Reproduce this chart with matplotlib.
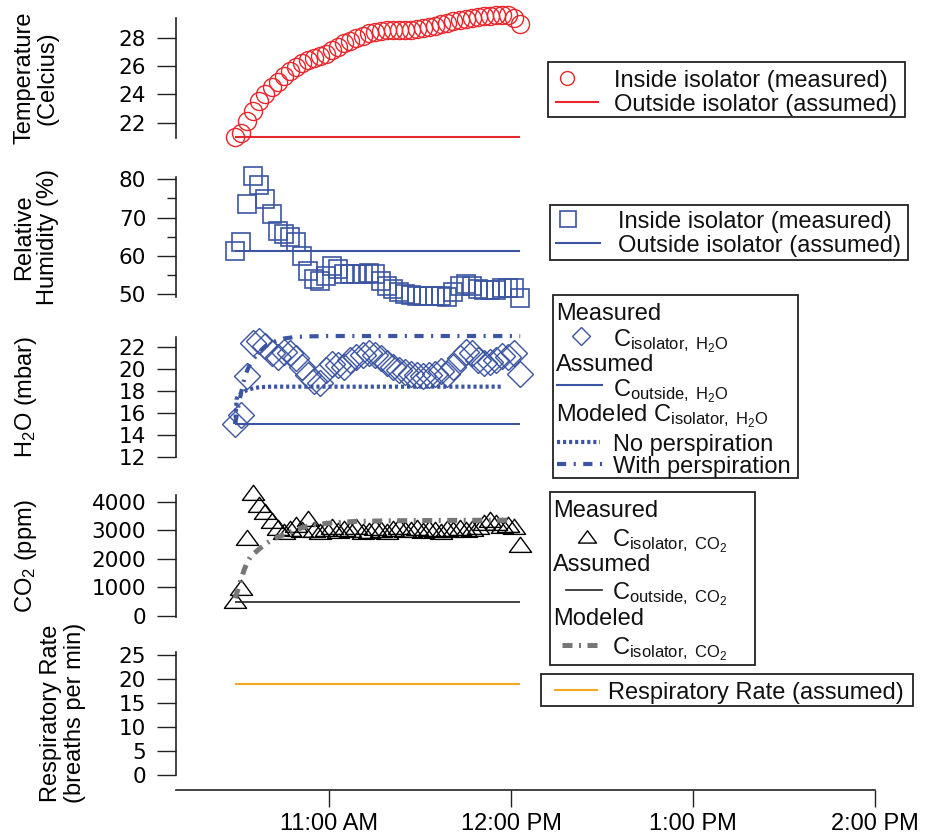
import numpy as np
import matplotlib
matplotlib.use('Agg')
import matplotlib.pyplot as plt
from matplotlib.path import Path
from matplotlib.patches import Rectangle
from matplotlib import font_manager

plt.rcParams['font.family'] = ['Liberation Sans', 'DejaVu Sans']
plt.rcParams['mathtext.fontset'] = 'custom'
plt.rcParams['mathtext.rm'] = 'Liberation Sans'
plt.rcParams['mathtext.it'] = 'Liberation Sans:italic'
plt.rcParams['mathtext.bf'] = 'Liberation Sans:bold'

names = {f.name for f in font_manager.fontManager.ttflist}
label_font = 'Liberation Sans Narrow' if 'Liberation Sans Narrow' in names else 'Liberation Sans'

# ---- data (time in hours, samples every 2 min from 10:29) ----
start_hour = 10 + 29 / 60
sample_min = np.arange(0, 96, 2)
t_meas = start_hour + sample_min / 60

temp_inside = [21.0, 21.25, 22.1, 22.8, 23.5, 24.0, 24.5, 24.9, 25.3, 25.65,
               25.95, 26.2, 26.4, 26.55, 26.7, 26.85, 27.1, 27.35, 27.6, 27.8,
               28.0, 28.15, 28.3, 28.4, 28.5, 28.55, 28.55, 28.55, 28.55, 28.55,
               28.6, 28.65, 28.75, 28.85, 28.95, 29.05, 29.15, 29.25, 29.3, 29.4,
               29.45, 29.5, 29.55, 29.6, 29.6, 29.6, 29.4, 29.0]
temp_outside = 21.0

rh_inside = [61.2, 63.5, 73.5, 80.9, 78.5, 74.9, 70.8, 66.5, 65.8, 64.9,
             63.7, 59.8, 55.9, 53.9, 53.5, 54.8, 57.4, 56.6, 55.1, 55.1,
             55.1, 55.3, 55.4, 55.3, 53.5, 52.2, 51.3, 50.4, 50.0, 49.8,
             49.5, 49.5, 49.5, 49.5, 49.5, 49.3, 50.4, 52.2, 52.6, 52.2,
             51.3, 51.0, 51.0, 51.0, 51.6, 51.6, 51.6, 48.9]
rh_outside = 61.2

h2o_inside = [14.96, 15.8, 19.4, 22.37, 22.6, 22.1, 21.5, 21.1, 21.6, 21.45,
              21.0, 20.2, 19.5, 18.9, 18.7, 19.9, 20.5, 20.4, 20.2, 20.8,
              21.1, 21.3, 21.45, 21.3, 21.0, 20.55, 20.2, 19.9, 19.7, 19.55,
              19.5, 19.4, 19.45, 19.55, 19.8, 19.6, 20.2, 21.0, 21.6, 21.45,
              20.85, 20.55, 20.7, 20.85, 21.2, 21.1, 21.45, 19.55]
h2o_outside = 15.0
nop_min = [0, 0.5, 1, 2, 3, 4, 6, 8, 12, 20, 40, 60, 88]
h2o_no_persp = [15.0, 17.3, 17.55, 17.8, 17.95, 18.1, 18.25, 18.35, 18.4, 18.4, 18.4, 18.4, 18.4]
persp_min = [0, 1, 2, 3, 4, 5, 6, 8, 10, 12, 14, 16, 20, 25, 30, 60, 94]
h2o_with_persp = [15.0, 16.5, 17.9, 19.1, 19.9, 20.5, 20.9, 21.6, 22.1, 22.4,
                  22.65, 22.8, 22.95, 23.0, 23.03, 23.03, 23.03]

co2_inside = [535, 970, 2720, 4300, 3880, 3650, 3330, 3070, 2950, 3050,
              3200, 3020, 3400, 3000, 2950, 3050, 3100, 2980, 3050, 3000,
              3120, 2950, 2980, 3080, 3000, 2930, 3050, 3100, 3000, 3020,
              3080, 2980, 3050, 3000, 2950, 3050, 3000, 3080, 3020, 3050,
              3100, 3250, 3350, 3250, 3150, 3200, 3100, 2500]
co2_outside = 500
co2_model_min = [0, 1, 2, 3, 4, 5, 6, 8, 10, 12, 14, 16, 20, 25, 30, 35, 40, 50, 60, 70, 80, 92]
co2_model = [620, 960, 1300, 1620, 1880, 2060, 2170, 2350, 2520, 2660, 2760,
             2840, 3020, 3180, 3240, 3280, 3310, 3330, 3340, 3345, 3350, 3350]

resp_rate = 19

xtick_hours = [11, 12, 13, 14]
xtick_labels = ['11:00 AM', '12:00 PM', '1:00 PM', '2:00 PM']

red = '#e8262c'
blue = '#3b55a3'
gray = '#777777'
orange = '#f4a81d'
dark = '#222222'

W, H = 928, 838
fig = plt.figure(figsize=(W / 100, H / 100), dpi=100)


def panel(top, bottom):
    ax = fig.add_axes([176 / W, 1 - bottom / H, 699 / W, (bottom - top) / H])
    ax.set_facecolor('none')
    for s in ['top', 'right', 'bottom']:
        ax.spines[s].set_visible(False)
    ax.spines['left'].set_linewidth(1.2)
    ax.spines['left'].set_color(dark)
    ax.set_xlim(10 + 9.5 / 60, 14.0)
    ax.set_xticks([])
    ax.tick_params(axis='y', direction='out', length=13.5, width=1.0, pad=8,
                   labelsize=15.5, labelfontfamily='DejaVu Sans', color=dark)
    ax.tick_params(axis='y', which='minor', length=6.5, width=1.0, color=dark)
    return ax


# temperature
ax1 = panel(18, 138)
ax1.plot(t_meas, temp_inside, 'o', mfc='none', mec=red, mew=1.0, ms=13, clip_on=False)
ax1.hlines(temp_outside, t_meas[0], t_meas[-1], color=red, lw=1.5)
ax1.set_ylim(20.92, 29.39)
ax1.set_yticks([22, 24, 26, 28])

# relative humidity
ax2 = panel(177, 297)
ax2.plot(t_meas, rh_inside, 's', mfc='none', mec=blue, mew=1.2, ms=13.5, clip_on=False)
ax2.hlines(rh_outside, t_meas[0], t_meas[-1], color=blue, lw=1.5)
ax2.set_ylim(49.2, 80.6)
ax2.set_yticks([50, 60, 70, 80])
ax2.set_yticks([55, 65, 75], minor=True)

# water vapour
ax3 = panel(337, 457)
ax3.plot(t_meas, h2o_inside, 'D', mfc='none', mec=blue, mew=1.0, ms=13.5, clip_on=False)
ax3.hlines(h2o_outside, t_meas[0], t_meas[-1], color=blue, lw=1.5)
ax3.plot(start_hour + np.array(nop_min) / 60, h2o_no_persp, color=blue, lw=3,
         linestyle=(0, (0.75, 0.7)), clip_on=False)
ax3.plot(start_hour + np.array(persp_min) / 60, h2o_with_persp, color=blue, lw=3,
         linestyle=(0, (2.2, 1.8, 0.5, 1.8)), clip_on=False)
ax3.set_ylim(11.97, 22.94)
ax3.set_yticks([12, 14, 16, 18, 20, 22])

# carbon dioxide
tri = Path([(-1, -0.62), (1, -0.62), (0, 0.74), (-1, -0.62)],
           [Path.MOVETO, Path.LINETO, Path.LINETO, Path.CLOSEPOLY])
ax4 = panel(495, 617)
ax4.plot(t_meas, co2_inside, linestyle='none', marker=tri, mfc='none', mec='black',
         mew=1.0, ms=16, clip_on=False)
ax4.plot(start_hour + np.array(co2_model_min) / 60, co2_model, color=gray, lw=3.6,
         linestyle=(0, (2.0, 1.3, 0.4, 1.3)), clip_on=False)
ax4.hlines(co2_outside, t_meas[0], t_meas[-1], color=dark, lw=1.2)
ax4.set_ylim(-35, 4234)
ax4.set_yticks([0, 1000, 2000, 3000, 4000])

# respiratory rate
ax5 = panel(652, 775)
ax5.hlines(resp_rate, t_meas[0], t_meas[-1], color=orange, lw=1.5)
ax5.set_ylim(0, 25.6)
ax5.set_yticks([0, 5, 10, 15, 20, 25])
ax5.spines['bottom'].set_visible(True)
ax5.spines['bottom'].set_position(('outward', 11))
ax5.spines['bottom'].set_linewidth(1.2)
ax5.spines['bottom'].set_color(dark)
ax5.set_xticks(xtick_hours)
ax5.set_xticklabels(xtick_labels)
ax5.tick_params(axis='x', direction='out', length=12.5, width=1.0, pad=4,
                labelsize=17, color=dark)

# y labels (left edge x in px, centre y in px)
ylabels = [('Temperature\n(Celcius)', 13, 78), ('Relative\nHumidity (%)', 13, 237),
           ('H$_2$O (mbar)', 13, 397), ('CO$_2$ (ppm)', 13, 556),
           ('Respiratory Rate\n(breaths per min)', 40, 713)]
for s, xl, yc in ylabels:
    fig.text(xl / W, 1 - yc / H, s, rotation=90, ha='left', va='center',
             multialignment='center', fontsize=17, family=label_font,
             linespacing=1.1)

# legends, drawn in a pixel-coordinate overlay
lg = fig.add_axes([0, 0, 1, 1])
lg.set_xlim(0, W)
lg.set_ylim(H, 0)
lg.axis('off')
lg.set_zorder(5)


def box(x0, y0, x1, y1):
    lg.add_patch(Rectangle((x0, y0), x1 - x0, y1 - y0, fill=False, lw=1.3, ec=dark))


def txt(x, y, s):
    lg.text(x, y, s, fontsize=17, ha='left', va='center_baseline', color='#111111')


iso_h2o = r'C$_{\mathrm{isolator,\ H_2O}}$'
out_h2o = r'C$_{\mathrm{outside,\ H_2O}}$'
iso_co2 = r'C$_{\mathrm{isolator,\ CO_2}}$'
out_co2 = r'C$_{\mathrm{outside,\ CO_2}}$'

box(548, 62, 905, 117)
lg.plot([567], [78], 'o', mfc='none', mec=red, mew=1.0, ms=10)
txt(614, 78, 'Inside isolator (measured)')
lg.plot([556, 598], [102, 102], color=red, lw=1.5)
txt(614, 102, 'Outside isolator (assumed)')

box(550, 205, 908, 260)
lg.plot([568], [219], 's', mfc='none', mec=blue, mew=1.2, ms=11)
txt(618, 219, 'Inside isolator (measured)')
lg.plot([556, 600], [243, 243], color=blue, lw=1.5)
txt(618, 243, 'Outside isolator (assumed)')

box(553, 295, 798, 478)
txt(556, 311, 'Measured')
lg.plot([581], [336], 'D', mfc='none', mec=blue, mew=1.0, ms=9.5)
txt(613, 337, iso_h2o)
txt(556, 362, 'Assumed')
lg.plot([557, 602], [385, 385], color=blue, lw=1.5)
txt(613, 387, out_h2o)
txt(556, 412, 'Modeled ' + iso_h2o)
lg.plot([557, 600], [442, 442], color=blue, lw=3, linestyle=(0, (0.75, 0.7)))
txt(613, 442, 'No perspiration')
lg.plot([557, 602], [464, 464], color=blue, lw=3, linestyle=(0, (2.2, 1.8, 0.5, 1.8)))
txt(613, 464, 'With perspiration')

box(550, 492, 755, 665)
txt(553, 508, 'Measured')
lg.plot([587], [537], linestyle='none', marker=tri, mfc='none', mec='black', mew=1.0, ms=13)
txt(612, 537, iso_co2)
txt(553, 562, 'Assumed')
lg.plot([566, 602], [590, 590], color=dark, lw=1.2)
txt(612, 590, out_co2)
txt(553, 616, 'Modeled')
lg.plot([562, 602], [645, 645], color=gray, lw=3.6, linestyle=(0, (2.0, 1.3, 0.4, 1.3)))
txt(612, 645, iso_co2)

box(541, 674, 913, 706)
lg.plot([555, 597], [690, 690], color=orange, lw=1.5)
txt(608, 690, 'Respiratory Rate (assumed)')

fig.savefig('out.png', dpi=100)
